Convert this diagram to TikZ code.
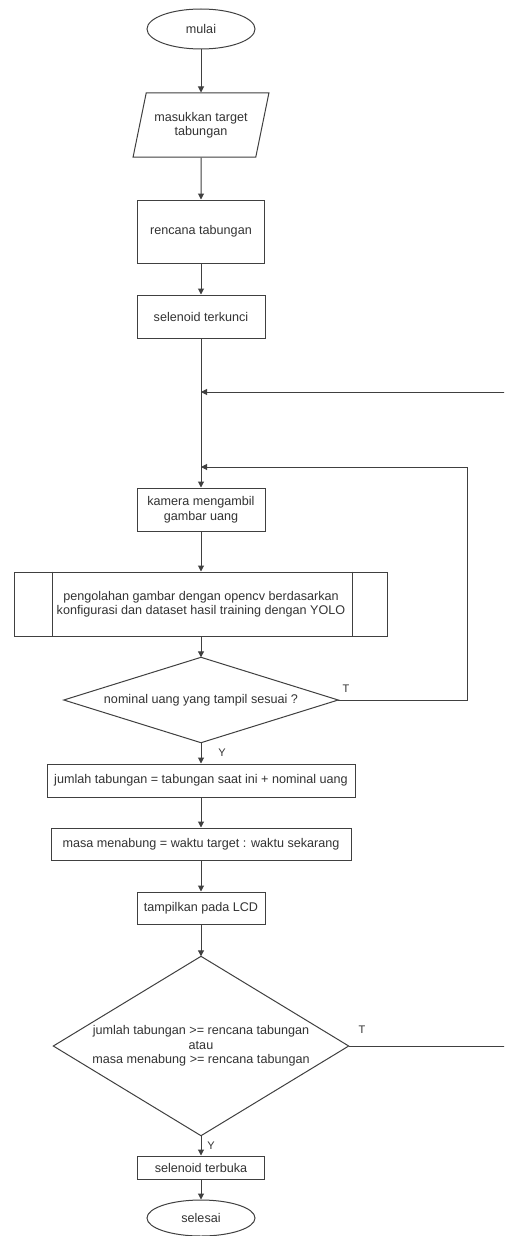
\documentclass[tikz,border=0pt]{standalone}
\usepackage{fontspec}
\setmainfont{Liberation Sans}
\usetikzlibrary{shapes.geometric,arrows.meta}
\begin{document}
\begin{tikzpicture}[x=1pt,y=1pt,
  every node/.style={font=\fontsize{12.6}{14.5}\selectfont, text=black!80, align=center, inner sep=0pt},
  shp/.style={draw=black!75, line width=1pt},
  box/.style={shp, rectangle},
  term/.style={shp, ellipse, minimum width=108, minimum height=40},
  io/.style={shp, trapezium, trapezium left angle=67, trapezium right angle=113, trapezium stretches=true, minimum width=136, minimum height=64},
  decarea/.style={rectangle},
  conn/.style={draw=black!75, line width=1pt, -{Triangle[length=6pt,width=6pt]}},
  line/.style={draw=black!75, line width=1pt},
  lbl/.style={font=\fontsize{11}{13}\selectfont}
]
\clip (0,0) rectangle (504,-1236);
\fill[white] (0,0) rectangle (504,-1236);

\node[term] (mulai) at (201,-29) {mulai};
\node[io] (input) at (201,-125) {masukkan target\\tabungan};
\node[box, minimum width=127, minimum height=63] (rencana) at (201,-231.5) {rencana tabungan};
\node[box, minimum width=128, minimum height=43] (kunci) at (201,-316.5) {selenoid terkunci};
\coordinate (j1) at (201,-392);
\coordinate (j2) at (201,-467);
\node[box, minimum width=128, minimum height=43] (kamera) at (201,-509.5) {kamera mengambil\\gambar uang};
\node[box, minimum width=373, minimum height=64] (olah) at (201,-604) {pengolahan gambar dengan opencv berdasarkan\\konfigurasi dan dataset hasil training dengan YOLO};
\draw[line] ([xshift=38]olah.north west) -- ([xshift=38]olah.south west);
\draw[line] ([xshift=-36]olah.north east) -- ([xshift=-36]olah.south east);
\node[decarea, minimum width=274, minimum height=85] (d1) at (201,-700) {nominal uang yang tampil sesuai ?};
\draw[line] (d1.north) -- (d1.east) -- (d1.south) -- (d1.west) -- cycle;
\node[box, minimum width=308, minimum height=33] (jumlah) at (201,-780.5) {jumlah tabungan = tabungan saat ini + nominal uang};
\node[box, minimum width=300, minimum height=32] (masa) at (201,-844) {masa menabung = waktu target : waktu sekarang};
\node[box, minimum width=128, minimum height=32] (lcd) at (201,-908) {tampilkan pada LCD};
\node[decarea, minimum width=295, minimum height=179] (d2) at (201,-1046) {jumlah tabungan >= rencana tabungan\\atau\\masa menabung >= rencana tabungan};
\draw[line] (d2.north) -- (d2.east) -- (d2.south) -- (d2.west) -- cycle;
\node[box, minimum width=127, minimum height=23] (buka) at (201,-1167.5) {selenoid terbuka};
\node[term, minimum height=36] (selesai) at (201,-1218) {selesai};

\coordinate (r1) at (467,-700);
\coordinate (r1t) at (467,-467);
\coordinate (r2) at (540,-1046);
\coordinate (r2t) at (540,-392);

\draw[conn] (mulai) -- (input);
\draw[conn] (input) -- (rencana);
\draw[conn] (rencana) -- (kunci);
\draw[conn] (kunci) -- (kamera);
\draw[conn] (kamera) -- (olah);
\draw[conn] (olah) -- (d1.north);
\draw[conn] (d1.south) -- (jumlah);
\draw[conn] (jumlah) -- (masa);
\draw[conn] (masa) -- (lcd);
\draw[conn] (lcd) -- (d2.north);
\draw[conn] (d2.south) -- (buka);
\draw[conn] (buka) -- (selesai);
\draw[conn] (d1.east) -- (r1) -- (r1t) -- (j2);
\draw[conn] (d2.east) -- (r2) -- (r2t) -- (j1);

\node[lbl] (t1) at (346,-689) {T};
\node[lbl] (y1) at (222,-753) {Y};
\node[lbl] (t2) at (362,-1030) {T};
\node[lbl] (y2) at (211,-1146) {Y};
\end{tikzpicture}
\end{document}
